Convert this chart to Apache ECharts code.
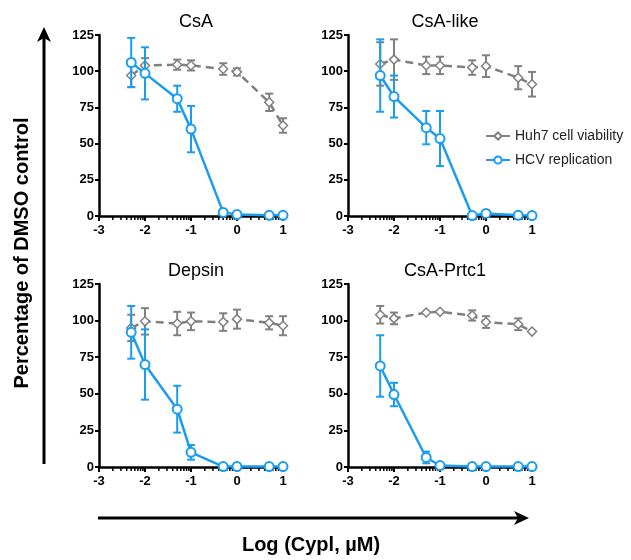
<!DOCTYPE html>
<html>
<head>
<meta charset="utf-8">
<script src="https://cdn.jsdelivr.net/npm/echarts@6/dist/echarts.min.js"></script>
<style>html,body{margin:0;padding:0;background:#fff;}#c{width:631px;height:560px;}</style>
</head>
<body>
<div id="c"></div>
<script>
// ---- data ----
const xLog = [-2.3, -2, -1.3, -1, -0.3, 0, 0.7, 1];
const panelTitles = ['CsA', 'CsA-like', 'Depsin', 'CsA-Prtc1'];
const xTicks = [-3, -2, -1, 0, 1];
const yTicks = [0, 25, 50, 75, 100, 125];

const csaViab      = [97, 104, 104.5, 104, 101.5, 99.5, 78.5, 62.5];
const csaViabErr   = [8, 5, 3.5, 3.5, 4, 2.5, 6, 5];
const csaHcv       = [106, 98.5, 81, 60, 2.5, 1, 0.5, 0.5];
const csaHcvErr    = [17, 18, 9, 16, 0, 0, 0, 0];

const likeViab     = [105, 108, 104, 104, 102.5, 103.5, 95.5, 91];
const likeViabErr  = [15, 14, 6, 6, 5, 7.5, 8, 8.5];
const likeHcv      = [97, 82.5, 61, 53.5, 0.3, 1.8, 0.5, 0.3];
const likeHcvErr   = [25, 14.5, 11.5, 19, 0, 0, 0, 0];

const depViab      = [95, 99.5, 98, 99.5, 99, 101, 98.5, 96.5];
const depViabErr   = [9, 9, 8, 6, 6, 6.5, 4.5, 6.5];
const depHcv       = [92, 70, 39.5, 10, 0.3, 0.3, 0.3, 0.3];
const depHcvErr    = [18, 24, 16, 5, 0, 0, 0, 0];

const prtViab      = [104, 101.5, 105.5, 106, 103.5, 99, 97.5, 92.5];
const prtViabErr   = [6, 4, 0, 0, 3.5, 4, 4, 0];
const prtHcv       = [69, 49.5, 6.5, 1, 0.3, 0.3, 0.3, 0.3];
const prtHcvErr    = [21, 8, 4, 0, 0, 0, 0, 0];

const viab = [csaViab, likeViab, depViab, prtViab];
const viabErr = [csaViabErr, likeViabErr, depViabErr, prtViabErr];
const hcv = [csaHcv, likeHcv, depHcv, prtHcv];
const hcvErr = [csaHcvErr, likeHcvErr, depHcvErr, prtHcvErr];

// ---- style ----
const GRAY = '#808080';
const BLUE = '#1a9cf0';
const FONT = 'Liberation Sans, Arial, sans-serif';

const grids = [
  {left: 99, top: 35, width: 184, height: 181},
  {left: 348, top: 35, width: 184, height: 181},
  {left: 99, top: 284, width: 184, height: 183},
  {left: 348, top: 284, width: 184, height: 183}
];

// log-style minor ticks (axis decoration)
const minorTicks = [];
for (let d = -3; d < 1; d++) {
  for (let k = 2; k <= 9; k++) minorTicks.push([d + Math.log10(k), 0]);
}

function errRenderer(color) {
  return function (params, api) {
    const x = api.value(0), lo = api.value(1), hi = api.value(2);
    if (hi - lo <= 0) return null;
    const p1 = api.coord([x, hi]), p2 = api.coord([x, lo]);
    const w = 4;
    const st = {stroke: color, lineWidth: 2};
    return {type: 'group', children: [
      {type: 'line', shape: {x1: p1[0], y1: p1[1], x2: p2[0], y2: p2[1]}, style: st},
      {type: 'line', shape: {x1: p1[0] - w, y1: p1[1], x2: p1[0] + w, y2: p1[1]}, style: st},
      {type: 'line', shape: {x1: p2[0] - w, y1: p2[1], x2: p2[0] + w, y2: p2[1]}, style: st}
    ]};
  };
}

function minorRender(params, api) {
  const p = api.coord([api.value(0), 0]);
  return {type: 'line', shape: {x1: p[0], y1: p[1], x2: p[0], y2: p[1] + 4},
    style: {stroke: '#000', lineWidth: 1.5}};
}

const xAxes = [], yAxes = [], series = [], titles = [];
grids.forEach((g, i) => {
  xAxes.push({
    type: 'value', gridIndex: i, min: xTicks[0], max: xTicks[xTicks.length - 1], interval: 1,
    axisLine: {show: true, onZero: false, lineStyle: {color: '#000', width: 2.5}},
    axisTick: {show: true, length: 5, lineStyle: {color: '#000', width: 2}},
    axisLabel: {color: '#000', fontFamily: FONT, fontWeight: 'bold', fontSize: 13, margin: 8},
    splitLine: {show: false}
  });
  yAxes.push({
    type: 'value', gridIndex: i, min: yTicks[0], max: yTicks[yTicks.length - 1], interval: 25,
    axisLine: {show: true, onZero: false, lineStyle: {color: '#000', width: 2.5}},
    axisTick: {show: true, length: 4, lineStyle: {color: '#000', width: 2}},
    axisLabel: {color: '#000', fontFamily: FONT, fontWeight: 'bold', fontSize: 13, margin: 5},
    splitLine: {show: false}
  });
  titles.push({
    text: panelTitles[i], left: g.left + g.width / 2, top: g.top - 27, textAlign: 'center',
    textStyle: {fontFamily: FONT, fontWeight: 'normal', fontSize: 18, color: '#000'}
  });
  series.push({
    type: 'custom', xAxisIndex: i, yAxisIndex: i, renderItem: minorRender,
    data: minorTicks, silent: true, z: 3
  });
  series.push({
    type: 'custom', xAxisIndex: i, yAxisIndex: i, renderItem: errRenderer(GRAY), silent: true,
    encode: {x: 0, y: [1, 2]},
    data: xLog.map((x, j) => [x, viab[i][j] - viabErr[i][j], viab[i][j] + viabErr[i][j]]), z: 2
  });
  series.push({
    type: 'line', name: 'Huh7 cell viability', xAxisIndex: i, yAxisIndex: i,
    data: xLog.map((x, j) => [x, viab[i][j]]),
    symbol: 'diamond', symbolSize: 9, showAllSymbol: true,
    lineStyle: {color: GRAY, width: 2.5, type: [8, 5]},
    itemStyle: {color: '#fff', borderColor: GRAY, borderWidth: 1.5},
    z: 2
  });
  series.push({
    type: 'custom', xAxisIndex: i, yAxisIndex: i, renderItem: errRenderer(BLUE), silent: true,
    encode: {x: 0, y: [1, 2]},
    data: xLog.map((x, j) => [x, hcv[i][j] - hcvErr[i][j], hcv[i][j] + hcvErr[i][j]]), z: 4
  });
  series.push({
    type: 'line', name: 'HCV replication', xAxisIndex: i, yAxisIndex: i,
    data: xLog.map((x, j) => [x, hcv[i][j]]),
    symbol: 'circle', symbolSize: 9, showAllSymbol: true,
    lineStyle: {color: BLUE, width: 2.5},
    itemStyle: {color: '#fff', borderColor: BLUE, borderWidth: 2},
    z: 5
  });
});

titles.push({
  text: 'Log (Cypl, µM)', left: 306, top: 530, textAlign: 'center',
  textStyle: {fontFamily: FONT, fontWeight: 'bold', fontSize: 20, color: '#000'}
});

const chart = echarts.init(document.getElementById('c'), null, {renderer: 'canvas'});
chart.setOption({
  animation: false,
  backgroundColor: '#fff',
  title: titles,
  grid: grids,
  xAxis: xAxes,
  yAxis: yAxes,
  legend: {
    data: [{name: 'Huh7 cell viability', itemStyle: {color: '#fff', borderColor: GRAY}, lineStyle: {color: GRAY, type: 'solid'}},
           {name: 'HCV replication', itemStyle: {color: '#fff', borderColor: BLUE}, lineStyle: {color: BLUE}}],
    orient: 'vertical', left: 480, top: 124, itemWidth: 24, itemHeight: 9, itemGap: 10,
    textStyle: {fontFamily: FONT, fontSize: 14, color: '#222'}
  },
  graphic: [
    {type: 'line', shape: {x1: 44, y1: 464, x2: 44, y2: 36}, style: {stroke: '#000', lineWidth: 3}},
    {type: 'polygon', shape: {points: [[44, 27], [37, 42], [44, 38], [51, 42]]}, style: {fill: '#000'}},
    {type: 'line', shape: {x1: 98, y1: 518, x2: 520, y2: 518}, style: {stroke: '#000', lineWidth: 3}},
    {type: 'polygon', shape: {points: [[529, 518], [514, 511], [518, 518], [514, 525]]}, style: {fill: '#000'}},
    {type: 'text', x: 22, y: 253, rotation: Math.PI / 2,
      style: {text: 'Percentage of DMSO control', fill: '#000', font: 'bold 20px Liberation Sans, Arial, sans-serif',
        align: 'center', verticalAlign: 'middle'}}
  ],
  series: series
});
</script>
</body>
</html>
